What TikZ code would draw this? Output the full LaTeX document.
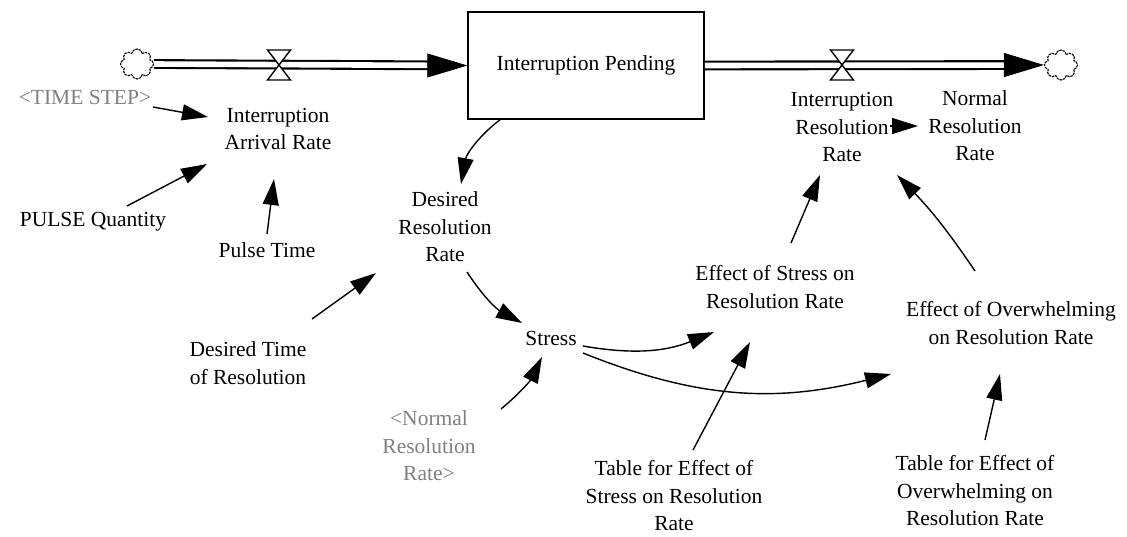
\documentclass[tikz,border=0pt]{standalone}
\usepackage{fontspec}
\setmainfont{Liberation Serif}
\usetikzlibrary{arrows.meta,shapes.symbols,calc}
\definecolor{shadowgray}{RGB}{128,128,128}
\begin{document}
\begin{tikzpicture}[x=1pt,y=-1pt,
  lbl/.style={align=center, font=\fontsize{21.5}{27.5}\selectfont, inner sep=0pt},
  shadowlbl/.style={lbl, text=shadowgray},
  infoarrow/.style={draw, line width=1.4pt, -{Triangle[length=26pt,width=16pt]}},
  pipe/.style={draw, double, line width=2.1pt, double distance=5.6pt},
  pipehead/.style={draw, line width=0.8pt, -{Triangle[length=40pt,width=24pt]}},
  valveshape/.style={draw, fill=white, line width=1.4pt, line join=miter},
  cloudnode/.style={cloud, cloud puffs=8, cloud puff arc=160, aspect=1.1, draw=black, line width=1.1pt,
     dash pattern=on 2.5pt off 0.8pt, minimum width=33pt, minimum height=30pt, inner sep=0pt},
  stockbox/.style={draw, line width=1.5pt, minimum width=236pt, minimum height=107pt, inner sep=0pt,
     font=\fontsize{21.5}{27.5}\selectfont}]
\useasboundingbox (0,0) rectangle (1127,536);

% stock, clouds, valves
\node[stockbox] (stock) at (586,65.5) {Interruption Pending};
\node[cloudnode] (cL) at (137,64) {};
\node[cloudnode] (cR) at (1061,65) {};
\coordinate (vL) at (279,65);
\coordinate (vR) at (842,65);

% pipes
\draw[pipe, shorten >=38pt] (cL.east) -- (stock.west);
\draw[pipehead] ([xshift=-40pt]stock.west) -- (stock.west);
\draw[pipe, shorten >=38pt] (stock.east) -- (cR.west);
\draw[pipehead] ([xshift=-40pt]cR.west) -- (cR.west);

% valves
\draw[valveshape] ([shift={(-11.5,-15)}]vL) -- ([shift={(11.5,-15)}]vL) -- (vL) -- cycle;
\draw[valveshape] ([shift={(-11.5,15)}]vL) -- ([shift={(11.5,15)}]vL) -- (vL) -- cycle;
\draw[valveshape] ([shift={(-11.5,-15)}]vR) -- ([shift={(11.5,-15)}]vR) -- (vR) -- cycle;
\draw[valveshape] ([shift={(-11.5,15)}]vR) -- ([shift={(11.5,15)}]vR) -- (vR) -- cycle;

% variables
\node[lbl] (iar) at (278,129) {Interruption\\Arrival Rate};
\node[shadowlbl] (ts) at (85,97) {<TIME STEP>};
\node[lbl] (pq) at (93,222) {PULSE Quantity};
\node[lbl] (pt) at (267,250) {Pulse Time};
\node[lbl] (drr) at (445,227) {Desired\\Resolution\\Rate};
\node[lbl] (dtr) at (248,363) {Desired Time\\of Resolution};
\node[lbl] (stress) at (551,338) {Stress};
\node[shadowlbl] (nrrS) at (429,446) {<Normal\\Resolution\\Rate>};
\node[lbl] (irr) at (842,127) {Interruption\\Resolution\\Rate};
\node[lbl] (nrr) at (975,126) {Normal\\Resolution\\Rate};
\node[lbl] (eos) at (775,287) {Effect of Stress on\\Resolution Rate};
\node[lbl] (eoo) at (1011,323) {Effect of Overwhelming\\on Resolution Rate};
\node[lbl] (teos) at (674,496) {Table for Effect of\\Stress on Resolution\\Rate};
\node[lbl] (teoo) at (975,491) {Table for Effect of\\Overwhelming on\\Resolution Rate};

% information arrows
\draw[infoarrow] ([shift={(68,10)}]ts.center) -- ([shift={(-70,-12)}]iar.center);
\draw[infoarrow] ([shift={(34,-16)}]pq.center) -- ([shift={(-71,35)}]iar.center);
\draw[infoarrow] ([shift={(0,-16)}]pt.center) -- ([shift={(-4,50)}]iar.center);
\draw[infoarrow] ([xshift=-86pt]stock.south) to[bend right=21] ([shift={(16,-43)}]drr.center);
\draw[infoarrow] ([shift={(22,45)}]drr.center) to[bend right=14] ([shift={(-29,-15)}]stress.center);
\draw[infoarrow] ([shift={(64,-44)}]dtr.center) -- ([shift={(-69,46)}]drr.center);
\draw[infoarrow] ([shift={(72,-37)}]nrrS.center) to[bend right=12] ([shift={(-9,19)}]stress.center);
\draw[infoarrow] ([shift={(32,8)}]stress.center) to[bend right=16] ([shift={(-61,45)}]eos.center);
\draw[infoarrow] ([shift={(32,15)}]stress.center) to[bend right=18] ([shift={(-120,51)}]eoo.center);
\draw[infoarrow] ([shift={(19,-46)}]teos.center) -- ([shift={(-25,55)}]eos.center);
\draw[infoarrow] ([shift={(10,-51)}]teoo.center) -- ([shift={(-11,51)}]eoo.center);
\draw[infoarrow] ([shift={(16,-44)}]eos.center) -- ([shift={(-22,48)}]irr.center);
\draw[infoarrow] ([shift={(-36,-52)}]eoo.center) to[bend right=5] ([shift={(55,48)}]irr.center);
\draw[infoarrow] ([shift={(48,-1)}]irr.center) -- ([shift={(-57,0)}]nrr.center);
\end{tikzpicture}
\end{document}
